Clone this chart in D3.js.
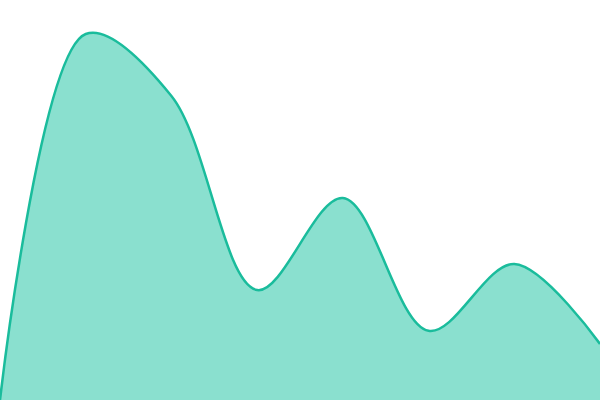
<!DOCTYPE html>
<html>
<head>
<meta charset="utf-8">
<script src="https://cdn.jsdelivr.net/npm/d3@7"></script>
<style>
  html, body { margin: 0; padding: 0; background: #fff; }
  svg { display: block; }
</style>
</head>
<body>
<div id="chart"></div>
<script>
// Data
const steps = [0, 1, 2, 3, 4, 5, 6, 7];
const values = [0, 91.5, 76, 27.5, 50.5, 17.3, 34, 14];

const width = 600;
const height = 400;

const svg = d3.select("#chart")
    .append("svg")
    .attr("width", width)
    .attr("height", height);

const x = d3.scaleLinear()
    .domain([0, 7])
    .range([0, width]);

const y = d3.scaleLinear()
    .domain([0, 100])
    .range([height, 0]);

const data = steps.map((s, i) => ({ s: s, v: values[i] }));

const area = d3.area()
    .x(d => x(d.s))
    .y0(height)
    .y1(d => y(d.v))
    .curve(d3.curveCatmullRom);

const line = d3.line()
    .x(d => x(d.s))
    .y(d => y(d.v))
    .curve(d3.curveCatmullRom);

svg.append("path")
    .datum(data)
    .attr("fill", "#8ae0cf")
    .attr("d", area);

svg.append("path")
    .datum(data)
    .attr("fill", "none")
    .attr("stroke", "#1abc9c")
    .attr("stroke-width", 2.5)
    .attr("d", line);
</script>
</body>
</html>
